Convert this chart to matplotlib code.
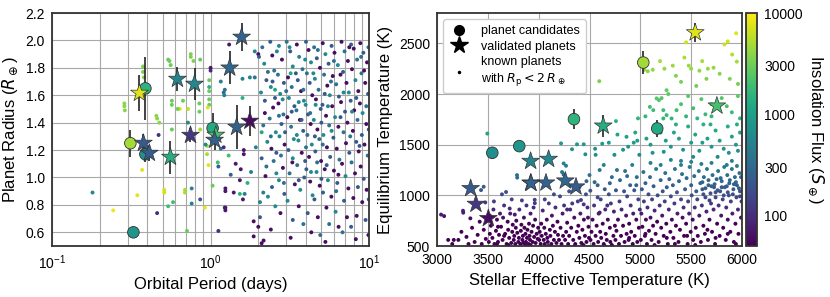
import matplotlib
matplotlib.use("Agg")
import matplotlib.pyplot as plt
from matplotlib.colors import LogNorm
from matplotlib.cm import ScalarMappable
from matplotlib.lines import Line2D
from matplotlib.ticker import FixedFormatter, NullFormatter

plt.rcParams['font.family'] = ['Liberation Sans', 'DejaVu Sans']

# ---- planet candidates (circles) ----
cand_period = [0.326, 0.312, 0.388, 0.388, 1.03]
cand_radius = [0.60, 1.25, 1.65, 1.17, 1.36]
cand_radius_err = [0.0, 0.10, 0.23, 0.06, 0.11]
cand_teff = [3809, 5029, 4347, 3544, 5166]
cand_teq = [1486, 2311, 1752, 1420, 1660]
cand_teq_err = [30, 110, 100, 60, 80]
cand_flux = [800, 4800, 1570, 680, 1240]

# ---- validated planets (stars) ----
val_period = [0.356, 0.558, 1.08, 0.618, 0.792, 0.377, 0.411, 1.06, 1.46, 1.57, 1.32, 0.747, 1.77]
val_radius = [1.616, 1.149, 1.31, 1.718, 1.682, 1.251, 1.178, 1.273, 1.368, 2.025, 1.80, 1.309, 1.412]
val_radius_err = [0.13, 0.12, 0.05, 0.085, 0.115, 0.065, 0.06, 0.07, 0.16, 0.10, 0.12, 0.05, 0.11]
val_teff = [5540, 4635, 5753, 3921, 4098, 3331, 4367, 3921, 4072, 3925, 4262, 3383, 3505]
val_teq = [2607, 1686, 1884, 1338, 1358, 1069, 1085, 1124, 1124, 1120, 1144, 914, 773]
val_teq_err = [90, 110, 0, 40, 40, 40, 40, 40, 40, 40, 40, 40, 40]
val_flux = [7700, 1350, 2100, 537, 569, 219, 231, 267, 267, 260, 286, 117, 60]

# ---- known planets, left panel: (period, radius, flux) ----
known_left = [
    (0.18, 0.89, 600), (0.243, 0.76, 9000), (0.286, 1.54, 4000), (0.286, 1.52, 4000), (0.288, 1.49, 4000),
    (0.345, 0.87, 8000), (0.37, 1.055, 8000), (0.375, 1.81, 3500), (0.375, 1.77, 3500), (0.38, 1.73, 3500),
    (0.455, 1.45, 4000), (0.46, 1.43, 4000), (0.475, 1.40, 4000), (0.46, 0.74, 100), (0.47, 1.31, 100),
    (0.51, 0.91, 7000), (0.51, 0.89, 7000), (0.55, 1.85, 3000), (0.56, 1.82, 3000), (0.57, 1.56, 3000),
    (0.57, 1.53, 3000), (0.57, 1.35, 3000), (0.58, 0.82, 2000), (0.54, 0.79, 2000), (0.64, 1.50, 8000),
    (0.67, 1.56, 3000), (0.69, 0.89, 5000), (0.69, 0.91, 5000), (0.71, 0.61, 3000), (0.75, 1.90, 3500),
    (0.75, 1.88, 3500), (0.78, 1.85, 3500), (0.76, 0.92, 500), (0.76, 0.81, 500), (0.86, 1.86, 3000),
    (0.85, 1.54, 3000), (0.85, 1.48, 3000), (0.86, 1.35, 5000), (0.92, 0.78, 8000), (0.86, 0.84, 200),
    (0.98, 1.71, 3000), (0.98, 1.63, 3000), (0.98, 1.57, 3000), (0.98, 1.53, 3000), (0.95, 1.23, 5000),
    (0.95, 1.17, 5000), (0.97, 1.09, 8000), (1.03, 0.94, 3000), (1.12, 0.61, 100), (1.12, 1.08, 250),
    (1.16, 1.21, 400), (1.24, 0.92, 70), (1.24, 0.90, 70), (1.24, 0.78, 70), (1.24, 0.76, 70),
    (1.34, 1.02, 250), (1.31, 1.97, 70), (1.53, 0.98, 70), (1.53, 0.88, 1500), (1.55, 1.06, 70),
    (1.64, 0.88, 500), (1.87, 0.57, 60), (2.1, 0.52, 60), (2.0, 0.64, 60), (1.9, 1.92, 500),
    (2.0, 1.90, 60), (1.77, 1.73, 500), (1.9, 1.73, 400), (1.59, 1.72, 500), (1.59, 1.58, 1500),
    (1.23, 1.64, 400), (1.21, 1.62, 300), (1.22, 1.60, 500), (1.16, 1.70, 500), (1.0, 1.78, 100),
    (0.96, 1.51, 8000), (1.62, 1.20, 70), (1.62, 1.17, 70), (1.93, 1.22, 500), (1.44, 1.10, 70),
    (1.8, 1.04, 500), (1.71, 0.96, 1500), (1.40, 0.89, 70), (1.23, 0.78, 70), (1.87, 0.68, 60),
    (2.16, 0.54, 60), (2.05, 0.82, 500), (2.15, 0.89, 500), (1.6, 0.84, 70), (0.54, 1.86, 3000),
    (0.62, 1.50, 3000), (0.72, 1.50, 6000), (0.72, 1.40, 600), (0.93, 1.24, 600), (1.11, 1.11, 2000),
    (1.21, 1.22, 100), (1.30, 1.16, 2000), (1.0, 1.80, 70), (0.98, 1.66, 1500),
    (2.12, 1.95, 350), (2.18, 1.83, 600), (2.25, 1.71, 220), (2.08, 1.62, 600), (2.2, 1.47, 60),
    (2.15, 1.38, 350), (2.28, 1.26, 600), (2.1, 1.14, 220), (2.22, 1.01, 60), (2.3, 0.86, 600),
    (2.05, 0.71, 220), (2.38, 1.99, 220), (2.45, 1.89, 60), (2.52, 1.78, 350), (2.4, 1.66, 600),
    (2.55, 1.58, 220), (2.48, 1.51, 60), (2.36, 1.43, 350), (2.58, 1.33, 600), (2.42, 1.21, 60),
    (2.5, 1.12, 350), (2.6, 1.03, 600), (2.44, 0.93, 220), (2.56, 0.79, 600), (2.4, 0.62, 60),
    (2.7, 1.96, 600), (2.82, 1.86, 60), (2.66, 1.75, 350), (2.9, 1.69, 220), (2.75, 1.61, 600),
    (2.68, 1.54, 60), (2.88, 1.46, 350), (2.8, 1.39, 220), (2.72, 1.30, 600), (2.93, 1.24, 60),
    (2.78, 1.16, 350), (2.86, 1.07, 60), (2.7, 0.98, 600), (2.92, 0.88, 220), (2.76, 0.74, 60),
    (3.02, 1.99, 350), (3.18, 1.92, 220), (3.3, 1.81, 600), (3.08, 1.73, 60), (3.25, 1.66, 350),
    (3.12, 1.58, 600), (3.38, 1.52, 220), (3.05, 1.44, 60), (3.22, 1.37, 350), (3.35, 1.28, 600),
    (3.1, 1.20, 220), (3.28, 1.11, 60), (3.15, 1.03, 350), (3.4, 0.95, 60), (3.06, 0.83, 600),
    (3.3, 0.69, 220), (3.2, 0.56, 60), (3.5, 1.97, 60), (3.62, 1.88, 600), (3.8, 1.79, 350),
    (3.55, 1.71, 220), (3.72, 1.63, 60), (3.88, 1.56, 600), (3.48, 1.49, 350), (3.66, 1.42, 60),
    (3.84, 1.34, 220), (3.58, 1.27, 600), (3.76, 1.18, 60), (3.52, 1.09, 350), (3.9, 1.0, 220),
    (3.68, 0.91, 600), (3.6, 0.79, 60), (3.85, 0.66, 350), (4.0, 1.99, 220), (4.15, 1.93, 60),
    (4.3, 1.84, 600), (4.05, 1.76, 350), (4.22, 1.69, 220), (4.38, 1.60, 60), (3.98, 1.53, 600),
    (4.12, 1.46, 220), (4.28, 1.39, 60), (4.08, 1.31, 350), (4.35, 1.24, 600), (4.18, 1.15, 60),
    (4.02, 1.06, 220), (4.25, 0.97, 60), (4.4, 0.87, 600), (4.1, 0.74, 220), (4.32, 0.6, 60),
    (4.5, 1.95, 350), (4.68, 1.87, 220), (4.9, 1.80, 60), (4.55, 1.72, 600), (4.8, 1.64, 350),
    (4.62, 1.57, 60), (4.95, 1.50, 220), (4.48, 1.42, 600), (4.72, 1.35, 60), (4.85, 1.28, 350),
    (4.58, 1.19, 220), (4.98, 1.12, 60), (4.66, 1.04, 600), (4.88, 0.94, 60), (4.52, 0.84, 220),
    (4.75, 0.71, 60), (4.92, 0.58, 350), (5.1, 1.98, 60), (5.3, 1.90, 600), (5.55, 1.83, 220),
    (5.2, 1.75, 350), (5.45, 1.67, 60), (5.65, 1.60, 600), (5.08, 1.53, 220), (5.35, 1.45, 60),
    (5.6, 1.38, 350), (5.15, 1.31, 600), (5.42, 1.22, 60), (5.68, 1.15, 220), (5.25, 1.06, 60),
    (5.5, 0.98, 600), (5.12, 0.89, 220), (5.38, 0.78, 60), (5.6, 0.66, 350), (5.3, 0.53, 60),
    (5.8, 1.96, 220), (6.05, 1.91, 60), (6.35, 1.82, 600), (5.9, 1.74, 60), (6.2, 1.68, 350),
    (6.45, 1.59, 220), (5.85, 1.52, 60), (6.1, 1.44, 600), (6.4, 1.37, 60), (5.95, 1.29, 220),
    (6.25, 1.21, 60), (6.5, 1.13, 350), (6.0, 1.05, 60), (6.3, 0.96, 220), (5.78, 0.86, 60),
    (6.15, 0.75, 600), (6.42, 0.64, 60), (6.7, 1.99, 60), (7.0, 1.92, 350), (7.35, 1.85, 60),
    (6.85, 1.77, 220), (7.2, 1.69, 60), (7.45, 1.62, 600), (6.65, 1.55, 60), (7.05, 1.48, 220),
    (7.3, 1.40, 60), (6.9, 1.33, 350), (7.15, 1.25, 60), (7.5, 1.18, 220), (6.75, 1.10, 60),
    (7.1, 1.01, 600), (7.4, 0.92, 60), (6.95, 0.83, 220), (7.25, 0.71, 60), (6.8, 0.6, 350),
    (7.7, 1.97, 220), (8.0, 1.94, 60), (8.4, 1.86, 350), (7.8, 1.79, 60), (8.2, 1.71, 600),
    (8.55, 1.63, 60), (7.65, 1.56, 220), (8.05, 1.49, 60), (8.45, 1.42, 350), (7.9, 1.34, 60),
    (8.3, 1.26, 220), (8.6, 1.19, 60), (7.75, 1.11, 350), (8.15, 1.03, 60), (8.5, 0.93, 220),
    (7.95, 0.85, 60), (8.35, 0.72, 60), (7.7, 0.64, 220), (8.25, 0.55, 60), (8.8, 1.98, 60),
    (9.2, 1.91, 220), (9.7, 1.84, 60), (8.95, 1.76, 350), (9.45, 1.69, 60), (9.85, 1.61, 220),
    (8.75, 1.54, 60), (9.1, 1.47, 600), (9.6, 1.39, 60), (9.0, 1.31, 220), (9.35, 1.24, 60),
    (9.8, 1.16, 350), (8.85, 1.08, 60), (9.25, 0.99, 220), (9.65, 0.91, 60), (9.05, 0.82, 60),
    (9.5, 0.69, 220), (9.9, 0.58, 60), (2.02, 1.88, 220), (2.3, 1.77, 350), (2.62, 1.92, 600),
    (2.46, 1.70, 220), (2.85, 1.57, 600), (3.15, 1.95, 600), (3.45, 1.76, 220), (3.0, 1.63, 350),
    (3.6, 1.55, 600), (3.95, 1.86, 600), (4.25, 1.47, 350), (3.75, 1.42, 220), (4.45, 1.76, 600),
    (4.75, 1.93, 350), (5.25, 1.61, 220), (5.75, 1.70, 350), (2.2, 1.56, 220), (2.7, 1.45, 350),
    (3.25, 1.48, 220), (3.85, 1.64, 350), (4.6, 1.53, 600), (5.0, 1.40, 220), (5.5, 1.52, 600),
    (6.0, 1.85, 350), (6.6, 1.75, 60), (2.4, 1.30, 350), (2.95, 1.33, 220), (3.5, 1.31, 600),
    (4.0, 1.22, 350), (4.55, 1.30, 220), (5.1, 1.24, 350), (5.8, 1.34, 600), (6.6, 1.44, 220),
    (7.6, 1.30, 350), (8.9, 1.88, 350), (2.6, 1.18, 220), (3.3, 1.14, 600), (3.95, 1.12, 220),
    (4.7, 1.11, 350), (5.4, 1.09, 220), (6.4, 1.02, 60), (7.8, 1.48, 600), (2.25, 1.08, 350),
    (2.9, 0.96, 350), (3.6, 0.98, 220), (4.3, 1.04, 600), (5.0, 0.99, 220), (6.2, 0.90, 350),
    (8.7, 1.23, 220), (9.6, 1.52, 350), (2.1, 1.33, 1200), (2.55, 1.64, 1200), (3.2, 1.76, 1200),
    (7.5, 1.95, 60), (8.3, 1.58, 220), (9.3, 1.78, 60), (9.95, 1.35, 220), (9.9, 1.95, 350),
    (9.95, 0.84, 220), (6.9, 1.62, 600),
]

# ---- known planets, right panel: (stellar Teff, Teq) ----
known_right = [
    (3040, 810), (3070, 795), (3110, 560), (3150, 520), (3165, 560), (3210, 560), (3240, 640), (3256, 848),
    (3258, 829), (3290, 590), (3310, 520), (3328, 773), (3345, 680), (3370, 540), (3400, 610), (3420, 740),
    (3440, 520), (3460, 660), (3475, 930), (3480, 570), (3433, 1052), (3459, 1085), (3495, 1610),
    (3510, 540), (3520, 620), (3530, 700), (3545, 580), (3555, 860), (3565, 520), (3580, 650), (3590, 760),
    (3600, 540), (3610, 610), (3620, 820), (3630, 690), (3639, 1010), (3679, 1033), (3645, 560), (3660, 900),
    (3670, 620), (3685, 520), (3695, 740), (3700, 660), (3710, 580), (3720, 820), (3730, 530), (3740, 640),
    (3745, 710), (3560, 940), (3600, 690), (3650, 780), (3700, 510), (3715, 870), (3520, 800), (3590, 520),
    (3660, 600), (3735, 960),
    (3755, 560), (3760, 600), (3770, 520), (3775, 680), (3780, 750), (3787, 1200), (3789, 1175), (3790, 630),
    (3800, 540), (3805, 580), (3810, 860), (3820, 520), (3825, 650), (3830, 710), (3840, 560), (3845, 600),
    (3850, 530), (3855, 780), (3860, 680), (3870, 620), (3875, 540), (3880, 900), (3885, 580), (3890, 660),
    (3900, 520), (3905, 720), (3910, 600), (3915, 560), (3920, 820), (3930, 640), (3940, 540), (3945, 700),
    (3955, 590), (3961, 956), (3962, 923), (3965, 760), (3970, 530), (3980, 620), (3990, 570), (3995, 680),
    (3870, 510), (3920, 510), (3765, 810), (3835, 950), (3950, 880),
    (4005, 560), (4010, 640), (4020, 520), (4025, 720), (4030, 600), (4040, 850), (4050, 560), (4055, 680),
    (4060, 520), (4070, 620), (4080, 760), (4085, 580), (4090, 540), (4100, 920), (4110, 660), (4115, 600),
    (4125, 520), (4130, 800), (4140, 700), (4150, 560), (4160, 640), (4165, 880), (4175, 530), (4185, 740),
    (4190, 610), (4200, 560), (4210, 990), (4215, 680), (4220, 1513), (4225, 520), (4235, 820), (4240, 600),
    (4246, 1315), (4269, 1292), (4230, 1230), (4245, 1205), (4250, 900), (4060, 960), (4150, 1010), (4095, 500),
    (4260, 560), (4270, 640), (4280, 730), (4290, 520), (4300, 600), (4310, 860), (4320, 680), (4328, 1455),
    (4340, 560), (4350, 780), (4360, 520), (4370, 2010), (4377, 1504), (4375, 640), (4385, 940), (4390, 700),
    (4400, 580), (4410, 820), (4416, 954), (4420, 530), (4430, 660), (4443, 911), (4443, 1504), (4445, 760),
    (4455, 600), (4459, 1405), (4465, 1010), (4470, 540), (4480, 880), (4490, 690), (4495, 580), (4300, 1040),
    (4400, 1080), (4330, 920), (4470, 1140), (4355, 500), (4440, 510), (4280, 860), (4500, 1200), (4485, 780),
    (4508, 1046), (4510, 560), (4520, 640), (4530, 760), (4540, 520), (4545, 900), (4555, 1460), (4560, 600),
    (4570, 700), (4580, 1100), (4585, 540), (4590, 820), (4600, 1250), (4605, 640), (4610, 960), (4615, 580),
    (4596, 2127), (4625, 1510), (4630, 720), (4640, 520), (4650, 1060), (4655, 860), (4660, 620), (4670, 560),
    (4680, 760), (4690, 1010), (4700, 680), (4705, 540), (4710, 920), (4720, 1180), (4760, 1733), (4735, 600),
    (4740, 840), (4745, 1400), (4750, 700), (4550, 1130), (4600, 830), (4650, 500), (4700, 1120), (4580, 980),
    (4640, 1300), (4690, 1520), (4720, 510), (4560, 1400), (4675, 900),
    (4755, 560), (4760, 1050), (4765, 650), (4780, 760), (4790, 520), (4795, 940), (4800, 1150), (4810, 600),
    (4815, 860), (4830, 700), (4840, 1040), (4845, 540), (4850, 1240), (4860, 800), (4865, 620), (4870, 990),
    (4885, 560), (4890, 720), (4900, 1100), (4905, 900), (4910, 640), (4925, 520), (4930, 820), (4940, 1050),
    (4945, 600), (4960, 760), (4965, 1180), (4970, 540), (4980, 960), (4985, 680), (4995, 860), (4770, 1250),
    (4890, 580), (4960, 1100), (4870, 1190),
    (4977, 1760), (4970, 1540), (4864, 1578), (4950, 1620), (4990, 1400), (4920, 1300), (4880, 1480),
    (4830, 1450), (4775, 1600), (4935, 1520),
    (5040, 2240), (5073, 2225), (5122, 2240), (5194, 2325), (5237, 2250), (5319, 2280), (5450, 2510),
    (5433, 2360), (5476, 2280), (5499, 2250), (5581, 2230), (5608, 2325), (5664, 2250), (5827, 2490),
    (5860, 2520), (5942, 2600), (5903, 2390), (5949, 2320), (5720, 2260), (5780, 2200), (5350, 2180),
    (5400, 2120), (5650, 2150), (5880, 2150), (5960, 2100), (5550, 2080),
    (5160, 1957), (5183, 1940), (5209, 1960), (5258, 2038), (5275, 2000), (5094, 1873), (5127, 1841),
    (5226, 1841), (5356, 1841), (5307, 1759), (5258, 1792), (5226, 1759), (5400, 1900), (5470, 1980),
    (5520, 1860), (5600, 1950), (5640, 1800), (5700, 1900), (5800, 1960), (5850, 1880), (5900, 1820),
    (5960, 1980), (5980, 1760), (5700, 1780), (5560, 1760), (5450, 1780), (5350, 1700), (5150, 1700),
    (5050, 1780),
    (5060, 1560), (5100, 1500), (5200, 1620), (5250, 1540), (5300, 1480), (5330, 1620), (5380, 1560),
    (5420, 1450), (5470, 1680), (5500, 1520), (5540, 1600), (5580, 1440), (5620, 1700), (5660, 1560),
    (5700, 1480), (5740, 1640), (5780, 1540), (5820, 1460), (5860, 1680), (5900, 1580), (5940, 1500),
    (5980, 1620), (5120, 1420), (5230, 1430), (5610, 1520), (5690, 1700), (5870, 1420), (5960, 1440),
    (5400, 1340), (5760, 1380), (5520, 1380), (5950, 1700),
    (5005, 560), (5010, 820), (5015, 1060), (5020, 690), (5030, 1230), (5035, 940), (5045, 600), (5050, 1120),
    (5055, 760), (5065, 520), (5070, 880), (5080, 1010), (5085, 650), (5095, 1180), (5100, 780), (5110, 560),
    (5115, 960), (5125, 700), (5130, 1090), (5140, 850), (5150, 620), (5155, 1260), (5165, 740), (5170, 1000),
    (5180, 540), (5190, 900), (5200, 1150), (5205, 680), (5215, 800), (5220, 1040), (5230, 600), (5240, 940),
    (5245, 1220), (5255, 720), (5260, 1080), (5270, 520), (5280, 860), (5285, 1160), (5295, 640), (5300, 990),
    (5310, 760), (5320, 1100), (5325, 580), (5335, 920), (5340, 1260), (5350, 700), (5360, 1030), (5365, 820),
    (5375, 540), (5380, 1140), (5390, 660), (5400, 960), (5410, 1210), (5415, 780), (5425, 880), (5430, 600),
    (5440, 1060), (5450, 720), (5455, 1170), (5465, 520), (5470, 940), (5480, 820), (5485, 1280), (5495, 640),
    (5500, 1100), (5505, 1000), (5515, 760), (5520, 560), (5530, 1190), (5535, 880), (5545, 680), (5550, 1040),
    (5560, 960), (5565, 600), (5575, 1240), (5580, 800), (5590, 1120), (5595, 540), (5605, 900), (5610, 1060),
    (5620, 700), (5625, 1180), (5635, 620), (5640, 980), (5650, 840), (5655, 1260), (5665, 560), (5670, 1100),
    (5680, 760), (5690, 1020), (5695, 920), (5705, 640), (5710, 1200), (5720, 860), (5725, 1080), (5735, 520),
    (5740, 980), (5750, 1160), (5755, 720), (5765, 1240), (5770, 900), (5780, 600), (5785, 1040), (5795, 800),
    (5800, 1140), (5810, 960), (5815, 680), (5825, 1280), (5830, 1080), (5840, 560), (5845, 880), (5855, 1200),
    (5860, 760), (5870, 1000), (5875, 1120), (5885, 640), (5890, 940), (5900, 1260), (5905, 820), (5915, 1060),
    (5920, 540), (5930, 1180), (5935, 720), (5945, 980), (5950, 1100), (5960, 860), (5965, 620), (5975, 1220),
    (5980, 1040), (5990, 780), (5995, 940), (5100, 1320), (5300, 1350), (5500, 1330), (5700, 1320),
    (5900, 1340), (5850, 1300), (5600, 1310), (5400, 1300), (5200, 1300), (5950, 1290), (5050, 620),
    (5260, 580), (5460, 600), (5660, 660), (5860, 620), (5140, 510), (5340, 520), (5540, 510), (5740, 580),
    (5940, 520), (5610, 1130), (5640, 1070), (5670, 1150), (5700, 1090), (5730, 1110), (5760, 1050),
    (5790, 1170), (5820, 1000), (5850, 1090), (5880, 1150), (5910, 1010), (5940, 1130), (5970, 1070),
    (5990, 1180), (5620, 1010), (5680, 950), (5740, 1030), (5800, 1080), (5860, 1030), (5920, 1110),
    (5980, 990),
]

flux_ticks = [100, 300, 1000, 3000, 10000]

cmap = 'viridis'
flux_norm = LogNorm(vmin=50, vmax=10000)
# same colour scale expressed in Teq (Teq ~ 278 K * S^0.25)
teq_norm = LogNorm(vmin=740, vmax=2780)

fig = plt.figure(figsize=(8.3, 2.97), dpi=100)
ax1 = fig.add_axes([0.0627, 0.1717, 0.382, 0.7845])
ax2 = fig.add_axes([0.5265, 0.1717, 0.3675, 0.7845])
cax = fig.add_axes([0.8988, 0.1717, 0.0133, 0.7845])

edge = '#333333'
grid_c = '#a8a8a8'
dot_s = 8
star_s = 180
circ_s = 70

# left panel
kp, kr, kf = zip(*known_left)
ax1.scatter(kp, kr, c=kf, cmap=cmap, norm=flux_norm, s=dot_s, linewidths=0, zorder=2)
ax1.errorbar(cand_period, cand_radius, yerr=cand_radius_err, fmt='none', ecolor='#222222', elinewidth=1.2, zorder=3)
ax1.errorbar(val_period, val_radius, yerr=val_radius_err, fmt='none', ecolor='#222222', elinewidth=1.2, zorder=3)
ax1.scatter(cand_period, cand_radius, c=cand_flux, cmap=cmap, norm=flux_norm, s=circ_s, marker='o',
            edgecolors=edge, linewidths=0.6, zorder=4)
ax1.scatter(val_period, val_radius, c=val_flux, cmap=cmap, norm=flux_norm, s=star_s, marker='*',
            edgecolors=edge, linewidths=0.5, zorder=4)
ax1.set_xscale('log')
ax1.set_xlim(0.1, 10)
ax1.set_ylim(0.5, 2.2)
ax1.set_yticks([0.6, 0.8, 1.0, 1.2, 1.4, 1.6, 1.8, 2.0, 2.2])
ax1.yaxis.set_major_formatter(FixedFormatter(['0.6', '0.8', '1.0', '1.2', '1.4', '1.6', '1.8', '2.0', '2.2']))
ax1.xaxis.set_minor_formatter(NullFormatter())
ax1.grid(True, which='both', color=grid_c, linewidth=0.8, zorder=0)
ax1.set_xlabel('Orbital Period (days)', fontsize=12)
ax1.set_ylabel(r'Planet Radius ($R_\oplus$)', fontsize=12)

# right panel
tt, tq = zip(*known_right)
ax2.scatter(tt, tq, c=tq, cmap=cmap, norm=teq_norm, s=dot_s, linewidths=0, zorder=2)
ax2.errorbar(cand_teff, cand_teq, yerr=cand_teq_err, fmt='none', ecolor='#222222', elinewidth=1.2, zorder=3)
ax2.errorbar(val_teff, val_teq, yerr=val_teq_err, fmt='none', ecolor='#222222', elinewidth=1.2, zorder=3)
ax2.scatter(cand_teff, cand_teq, c=cand_flux, cmap=cmap, norm=flux_norm, s=circ_s, marker='o',
            edgecolors=edge, linewidths=0.6, zorder=4)
ax2.scatter(val_teff, val_teq, c=val_flux, cmap=cmap, norm=flux_norm, s=star_s, marker='*',
            edgecolors=edge, linewidths=0.5, zorder=4)
ax2.set_xlim(3000, 6000)
ax2.set_ylim(500, 2800)
ax2.set_xticks([3000, 3500, 4000, 4500, 5000, 5500, 6000])
ax2.set_yticks([500, 1000, 1500, 2000, 2500])
ax2.grid(True, color=grid_c, linewidth=0.8, zorder=0)
ax2.set_xlabel('Stellar Effective Temperature (K)', fontsize=12)
ax2.set_ylabel('Equilibrium Temperature (K)', fontsize=12)

handles = [
    Line2D([], [], marker='o', color='k', linestyle='none', markersize=7),
    Line2D([], [], marker='*', color='k', linestyle='none', markersize=13),
    Line2D([], [], marker='.', color='k', linestyle='none', markersize=3),
]
labels = ['planet candidates', 'validated planets', 'known planets\n' + r'with $R_\mathrm{p} < 2\,R_\oplus$']
ax2.legend(handles, labels, loc='upper left', fontsize=9, frameon=True, framealpha=1,
           edgecolor='#cccccc', handletextpad=1.0, borderpad=0.45, labelspacing=0.3,
           handlelength=1.6)

for ax in (ax1, ax2):
    ax.tick_params(which='both', length=0, labelsize=10, pad=5)
    ax.set_axisbelow(True)
    for sp in ax.spines.values():
        sp.set_color('#333333')
        sp.set_linewidth(1.3)

sm = ScalarMappable(norm=flux_norm, cmap=cmap)
cb = fig.colorbar(sm, cax=cax)
cb.set_ticks(flux_ticks)
cb.set_ticklabels([str(t) for t in flux_ticks])
cb.minorticks_off()
cb.ax.tick_params(length=0, labelsize=10, pad=5)
cb.outline.set_edgecolor('#333333')
cb.outline.set_linewidth(1.3)
cb.set_label(r'Insolation Flux ($S_\oplus$)', fontsize=12, rotation=270, labelpad=16)

fig.savefig('out.png', dpi=100)
